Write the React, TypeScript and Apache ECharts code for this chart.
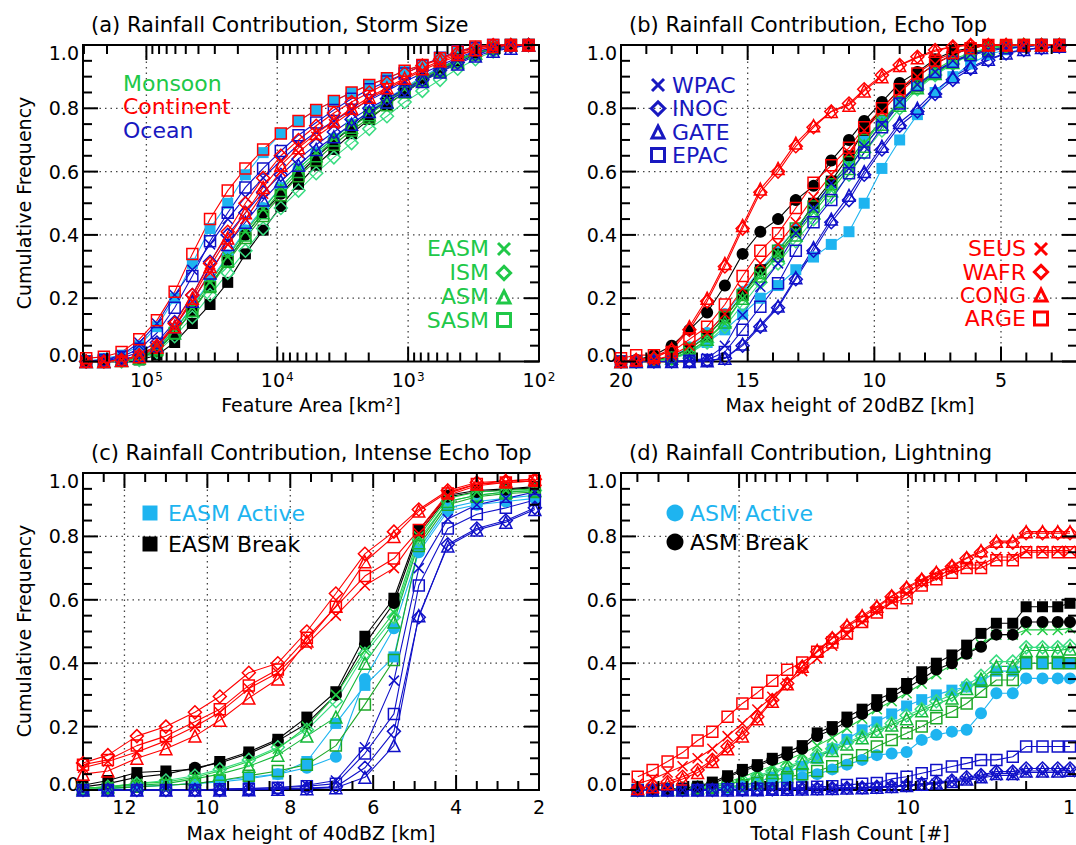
import React, { useEffect, useRef } from 'react';
import * as echarts from 'echarts';

// ---------------- data ----------------
// (a) storm size bins [km^2]
const aArea = [288400, 211300, 154700, 113300, 83040, 60810, 44550, 32630, 23900, 17510, 12820, 9393, 6880, 5040, 3692, 2704, 1981, 1451, 1063, 778, 570, 418, 306, 224, 164, 120];
const aEASM = [0, 0, 0.003, 0.01, 0.04, 0.1, 0.17, 0.25, 0.33, 0.41, 0.48, 0.55, 0.61, 0.66, 0.705, 0.75, 0.79, 0.825, 0.86, 0.895, 0.925, 0.955, 0.975, 0.99, 1, 1];
const aISM = [0, 0, 0, 0.005, 0.03, 0.08, 0.14, 0.21, 0.28, 0.35, 0.42, 0.485, 0.54, 0.595, 0.645, 0.69, 0.735, 0.775, 0.82, 0.855, 0.89, 0.925, 0.955, 0.98, 0.995, 1];
const aASM = [0, 0, 0.003, 0.01, 0.04, 0.09, 0.16, 0.24, 0.32, 0.4, 0.47, 0.54, 0.6, 0.65, 0.7, 0.74, 0.78, 0.82, 0.855, 0.89, 0.92, 0.95, 0.975, 0.99, 1, 1];
const aSASM = [0, 0, 0.002, 0.008, 0.035, 0.09, 0.16, 0.235, 0.315, 0.39, 0.46, 0.525, 0.585, 0.635, 0.685, 0.73, 0.77, 0.81, 0.85, 0.885, 0.915, 0.945, 0.97, 0.99, 1, 1];
const aSEUS = [0, 0, 0.005, 0.02, 0.05, 0.11, 0.19, 0.28, 0.37, 0.45, 0.53, 0.6, 0.66, 0.71, 0.75, 0.79, 0.83, 0.86, 0.89, 0.92, 0.945, 0.965, 0.985, 0.995, 1, 1];
const aWAFR = [0, 0, 0.005, 0.02, 0.05, 0.12, 0.21, 0.31, 0.41, 0.5, 0.58, 0.65, 0.7, 0.745, 0.785, 0.82, 0.85, 0.88, 0.91, 0.935, 0.955, 0.975, 0.99, 1, 1, 1];
const aCONG = [0, 0, 0.003, 0.015, 0.045, 0.11, 0.2, 0.3, 0.39, 0.47, 0.55, 0.62, 0.675, 0.72, 0.76, 0.8, 0.835, 0.865, 0.895, 0.925, 0.95, 0.97, 0.985, 0.995, 1, 1];
const aARGE = [0.01, 0.015, 0.03, 0.07, 0.13, 0.22, 0.34, 0.45, 0.54, 0.61, 0.67, 0.72, 0.76, 0.795, 0.823, 0.85, 0.874, 0.895, 0.919, 0.937, 0.958, 0.979, 0.995, 1, 1, 1];
const aWPAC = [0, 0.005, 0.02, 0.06, 0.12, 0.21, 0.29, 0.37, 0.45, 0.52, 0.58, 0.635, 0.685, 0.725, 0.76, 0.795, 0.825, 0.855, 0.885, 0.91, 0.935, 0.96, 0.98, 0.99, 1, 1];
const aINOC = [0, 0.003, 0.01, 0.03, 0.06, 0.125, 0.21, 0.315, 0.4, 0.47, 0.535, 0.59, 0.64, 0.685, 0.725, 0.765, 0.8, 0.83, 0.86, 0.89, 0.92, 0.945, 0.97, 0.985, 0.995, 1];
const aGATE = [0, 0, 0.005, 0.02, 0.05, 0.11, 0.19, 0.28, 0.37, 0.44, 0.51, 0.57, 0.62, 0.67, 0.71, 0.75, 0.79, 0.82, 0.855, 0.885, 0.915, 0.94, 0.965, 0.98, 0.99, 1];
const aEPAC = [0, 0.005, 0.015, 0.04, 0.09, 0.17, 0.27, 0.38, 0.47, 0.55, 0.61, 0.665, 0.715, 0.755, 0.795, 0.83, 0.86, 0.885, 0.91, 0.935, 0.96, 0.98, 0.99, 1, 1, 1];
const aEASMActive = [0, 0.01, 0.02, 0.05, 0.11, 0.2, 0.31, 0.42, 0.5, 0.59, 0.66, 0.72, 0.76, 0.795, 0.823, 0.85, 0.874, 0.895, 0.919, 0.937, 0.958, 0.979, 0.995, 1, 1, 1];
const aEASMBreak = [0, 0, 0, 0.005, 0.02, 0.06, 0.12, 0.18, 0.25, 0.34, 0.415, 0.49, 0.56, 0.62, 0.67, 0.72, 0.765, 0.81, 0.85, 0.885, 0.92, 0.95, 0.975, 0.99, 1, 1];
const aASMActive = [0, 0, 0.003, 0.012, 0.045, 0.1, 0.175, 0.255, 0.335, 0.415, 0.485, 0.55, 0.61, 0.66, 0.705, 0.75, 0.79, 0.83, 0.865, 0.9, 0.93, 0.955, 0.975, 0.99, 1, 1];
const aASMBreak = [0, 0, 0.002, 0.01, 0.035, 0.09, 0.16, 0.24, 0.32, 0.4, 0.47, 0.53, 0.59, 0.645, 0.695, 0.74, 0.785, 0.825, 0.86, 0.895, 0.925, 0.955, 0.975, 0.99, 1, 1];

// (b) max height of 20 dBZ [km]
const bHeight = [20.0, 19.4, 18.7, 18.0, 17.3, 16.6, 15.9, 15.2, 14.5, 13.8, 13.1, 12.4, 11.7, 11.0, 10.4, 9.7, 9.0, 8.3, 7.6, 6.9, 6.2, 5.5, 4.8, 4.1, 3.4, 2.7];
const bEASM = [0, 0, 0.003, 0.01, 0.03, 0.07, 0.12, 0.2, 0.27, 0.34, 0.41, 0.48, 0.55, 0.62, 0.69, 0.76, 0.82, 0.875, 0.92, 0.955, 0.975, 0.99, 1, 1, 1, 1];
const bISM = [0, 0, 0.002, 0.008, 0.025, 0.06, 0.11, 0.18, 0.25, 0.31, 0.38, 0.45, 0.52, 0.59, 0.66, 0.73, 0.8, 0.86, 0.905, 0.94, 0.97, 0.985, 0.995, 1, 1, 1];
const bASM = [0, 0, 0.003, 0.01, 0.03, 0.07, 0.125, 0.2, 0.27, 0.335, 0.4, 0.47, 0.54, 0.61, 0.68, 0.75, 0.81, 0.865, 0.91, 0.945, 0.975, 0.99, 1, 1, 1, 1];
const bSASM = [0, 0, 0.003, 0.012, 0.04, 0.08, 0.14, 0.21, 0.28, 0.35, 0.42, 0.49, 0.56, 0.63, 0.7, 0.76, 0.82, 0.87, 0.91, 0.945, 0.97, 0.985, 0.995, 1, 1, 1];
const bSEUS = [0, 0, 0.005, 0.02, 0.05, 0.09, 0.15, 0.23, 0.31, 0.37, 0.44, 0.52, 0.59, 0.66, 0.73, 0.79, 0.85, 0.9, 0.94, 0.97, 0.99, 1, 1, 1, 1, 1];
const bWAFR = [0, 0.005, 0.01, 0.036, 0.1, 0.19, 0.3, 0.42, 0.535, 0.6, 0.68, 0.74, 0.79, 0.815, 0.86, 0.905, 0.937, 0.963, 0.984, 0.995, 1, 1, 1, 1, 1, 1];
const bCONG = [0, 0.005, 0.015, 0.04, 0.11, 0.2, 0.31, 0.43, 0.545, 0.61, 0.69, 0.745, 0.79, 0.81, 0.855, 0.9, 0.935, 0.96, 0.98, 0.995, 1, 1, 1, 1, 1, 1];
const bARGE = [0.01, 0.02, 0.02, 0.03, 0.07, 0.11, 0.18, 0.27, 0.35, 0.405, 0.485, 0.565, 0.62, 0.675, 0.74, 0.8, 0.86, 0.91, 0.95, 0.975, 0.99, 1, 1, 1, 1, 1];
const bWPAC = [0, 0, 0, 0, 0.003, 0.01, 0.05, 0.147, 0.236, 0.31, 0.405, 0.484, 0.563, 0.61, 0.68, 0.75, 0.82, 0.875, 0.915, 0.95, 0.97, 0.985, 0.99, 0.995, 1, 1];
const bINOC = [0, 0, 0, 0, 0, 0.003, 0.01, 0.05, 0.11, 0.17, 0.26, 0.35, 0.44, 0.51, 0.59, 0.67, 0.745, 0.79, 0.845, 0.89, 0.925, 0.952, 0.973, 0.984, 0.99, 0.995];
const bGATE = [0, 0, 0, 0, 0, 0.002, 0.01, 0.055, 0.115, 0.175, 0.265, 0.36, 0.45, 0.525, 0.6, 0.68, 0.755, 0.8, 0.855, 0.9, 0.93, 0.955, 0.975, 0.986, 0.992, 0.996];
const bEPAC = [0, 0, 0, 0, 0.002, 0.005, 0.03, 0.1, 0.173, 0.247, 0.35, 0.44, 0.51, 0.595, 0.66, 0.74, 0.815, 0.874, 0.915, 0.947, 0.968, 0.98, 0.99, 0.995, 1, 1];
const bEASMActive = [0, 0, 0.003, 0.01, 0.03, 0.06, 0.1, 0.15, 0.2, 0.24, 0.29, 0.33, 0.37, 0.41, 0.5, 0.61, 0.7, 0.78, 0.85, 0.9, 0.94, 0.97, 0.985, 0.995, 1, 1];
const bEASMBreak = [0, 0, 0.005, 0.015, 0.04, 0.08, 0.14, 0.21, 0.29, 0.34, 0.41, 0.5, 0.57, 0.65, 0.73, 0.8, 0.86, 0.9, 0.94, 0.97, 0.99, 1, 1, 1, 1, 1];
const bASMActive = [0, 0, 0.004, 0.015, 0.045, 0.09, 0.15, 0.22, 0.29, 0.355, 0.42, 0.49, 0.56, 0.63, 0.7, 0.76, 0.82, 0.87, 0.91, 0.945, 0.97, 0.985, 0.995, 1, 1, 1];
const bASMBreak = [0, 0.005, 0.02, 0.05, 0.1, 0.155, 0.24, 0.34, 0.41, 0.45, 0.51, 0.555, 0.635, 0.7, 0.76, 0.82, 0.88, 0.915, 0.955, 0.98, 0.99, 1, 1, 1, 1, 1];

// (c) max height of 40 dBZ [km]
const cHeight = [13.0, 12.4, 11.7, 11.0, 10.3, 9.7, 9.0, 8.3, 7.6, 6.9, 6.2, 5.5, 4.9, 4.2, 3.5, 2.8, 2.1];
const cEASM = [0.005, 0.01, 0.02, 0.025, 0.04, 0.06, 0.09, 0.13, 0.2, 0.3, 0.44, 0.56, 0.8, 0.92, 0.94, 0.945, 0.95];
const cISM = [0.005, 0.01, 0.02, 0.03, 0.045, 0.065, 0.095, 0.135, 0.19, 0.28, 0.43, 0.545, 0.79, 0.91, 0.93, 0.94, 0.945];
const cASM = [0.005, 0.01, 0.015, 0.02, 0.035, 0.05, 0.075, 0.11, 0.17, 0.23, 0.4, 0.53, 0.78, 0.91, 0.93, 0.94, 0.945];
const cSASM = [0, 0.005, 0.01, 0.015, 0.02, 0.03, 0.045, 0.06, 0.08, 0.14, 0.27, 0.41, 0.77, 0.9, 0.925, 0.935, 0.94];
const cSEUS = [0.07, 0.09, 0.12, 0.155, 0.2, 0.245, 0.32, 0.37, 0.46, 0.55, 0.645, 0.7, 0.81, 0.93, 0.96, 0.97, 0.975];
const cWAFR = [0.085, 0.11, 0.17, 0.2, 0.245, 0.295, 0.37, 0.4, 0.5, 0.62, 0.745, 0.815, 0.885, 0.945, 0.97, 0.975, 0.98];
const cCONG = [0.05, 0.06, 0.1, 0.13, 0.17, 0.22, 0.29, 0.35, 0.47, 0.58, 0.72, 0.8, 0.88, 0.94, 0.965, 0.975, 0.98];
const cARGE = [0.08, 0.095, 0.14, 0.17, 0.215, 0.255, 0.33, 0.38, 0.48, 0.578, 0.675, 0.73, 0.82, 0.935, 0.965, 0.97, 0.975];
const cWPAC = [0, 0, 0, 0, 0, 0.003, 0.005, 0.008, 0.015, 0.03, 0.135, 0.345, 0.7, 0.855, 0.9, 0.92, 0.94];
const cINOC = [0, 0, 0, 0, 0, 0, 0.002, 0.004, 0.006, 0.01, 0.07, 0.185, 0.545, 0.775, 0.825, 0.85, 0.89];
const cGATE = [0, 0, 0, 0, 0, 0, 0.001, 0.002, 0.004, 0.007, 0.04, 0.14, 0.55, 0.77, 0.82, 0.845, 0.885];
const cEPAC = [0, 0, 0, 0, 0, 0.002, 0.004, 0.007, 0.012, 0.02, 0.115, 0.24, 0.645, 0.825, 0.87, 0.89, 0.915];
const cEASMActive = [0, 0.005, 0.01, 0.015, 0.02, 0.025, 0.035, 0.05, 0.09, 0.21, 0.33, 0.42, 0.76, 0.89, 0.91, 0.92, 0.93];
const cEASMBreak = [0.015, 0.03, 0.055, 0.06, 0.065, 0.09, 0.12, 0.16, 0.23, 0.31, 0.485, 0.605, 0.82, 0.93, 0.945, 0.95, 0.957];
const cASMActive = [0, 0.005, 0.01, 0.015, 0.02, 0.03, 0.04, 0.05, 0.07, 0.105, 0.35, 0.51, 0.75, 0.88, 0.9, 0.91, 0.92];
const cASMBreak = [0.01, 0.02, 0.04, 0.05, 0.07, 0.085, 0.115, 0.155, 0.21, 0.3, 0.46, 0.59, 0.81, 0.925, 0.94, 0.947, 0.953];

// (d) total flash count
const dFlash = [398, 325, 265, 216, 176, 144, 117, 95.6, 78, 63.6, 51.9, 42.3, 34.5, 28.1, 23, 18.7, 15.3, 12.5, 10.2, 8.3, 6.8, 5.5, 4.5, 3.7, 3, 2.4, 2, 1.6, 1.3, 1.1];
const dEASM = [0, 0, 0.002, 0.005, 0.01, 0.015, 0.025, 0.04, 0.06, 0.075, 0.095, 0.115, 0.14, 0.165, 0.195, 0.225, 0.255, 0.28, 0.305, 0.335, 0.365, 0.395, 0.43, 0.46, 0.49, 0.49, 0.505, 0.505, 0.505, 0.51];
const dISM = [0, 0, 0.002, 0.004, 0.008, 0.012, 0.02, 0.03, 0.045, 0.06, 0.075, 0.09, 0.11, 0.13, 0.15, 0.17, 0.19, 0.21, 0.235, 0.255, 0.28, 0.3, 0.33, 0.36, 0.405, 0.405, 0.45, 0.45, 0.45, 0.455];
const dASM = [0, 0, 0.002, 0.004, 0.007, 0.011, 0.018, 0.028, 0.04, 0.055, 0.07, 0.085, 0.105, 0.125, 0.145, 0.165, 0.185, 0.205, 0.225, 0.25, 0.27, 0.29, 0.32, 0.35, 0.39, 0.39, 0.44, 0.44, 0.44, 0.445];
const dSASM = [0, 0, 0, 0.002, 0.004, 0.006, 0.01, 0.015, 0.022, 0.03, 0.04, 0.05, 0.06, 0.075, 0.095, 0.11, 0.137, 0.158, 0.179, 0.2, 0.226, 0.247, 0.273, 0.31, 0.347, 0.347, 0.4, 0.4, 0.4, 0.4];
const dSEUS = [0.02, 0.035, 0.055, 0.075, 0.1, 0.13, 0.17, 0.21, 0.254, 0.294, 0.336, 0.375, 0.415, 0.455, 0.49, 0.53, 0.565, 0.595, 0.62, 0.655, 0.675, 0.695, 0.71, 0.71, 0.735, 0.735, 0.755, 0.755, 0.755, 0.755];
const dWAFR = [0.005, 0.015, 0.025, 0.042, 0.063, 0.095, 0.137, 0.179, 0.231, 0.284, 0.336, 0.389, 0.436, 0.478, 0.515, 0.545, 0.575, 0.61, 0.636, 0.662, 0.683, 0.705, 0.73, 0.75, 0.78, 0.78, 0.81, 0.81, 0.81, 0.81];
const dCONG = [0.005, 0.01, 0.02, 0.035, 0.055, 0.09, 0.13, 0.17, 0.225, 0.28, 0.335, 0.39, 0.44, 0.48, 0.52, 0.55, 0.58, 0.612, 0.64, 0.665, 0.687, 0.708, 0.733, 0.755, 0.785, 0.785, 0.815, 0.815, 0.815, 0.815];
const dARGE = [0.042, 0.063, 0.09, 0.118, 0.156, 0.184, 0.231, 0.273, 0.307, 0.345, 0.379, 0.402, 0.436, 0.465, 0.494, 0.53, 0.56, 0.59, 0.605, 0.645, 0.665, 0.685, 0.7, 0.7, 0.725, 0.725, 0.75, 0.75, 0.75, 0.75];
const dWPAC = [0, 0, 0, 0, 0, 0, 0, 0, 0.001, 0.001, 0.002, 0.002, 0.003, 0.004, 0.005, 0.006, 0.008, 0.01, 0.013, 0.016, 0.02, 0.025, 0.03, 0.038, 0.046, 0.046, 0.055, 0.055, 0.055, 0.056];
const dINOC = [0, 0, 0, 0, 0, 0, 0.001, 0.001, 0.002, 0.002, 0.003, 0.004, 0.005, 0.006, 0.007, 0.008, 0.01, 0.012, 0.015, 0.02, 0.025, 0.03, 0.04, 0.047, 0.058, 0.058, 0.068, 0.068, 0.068, 0.068];
const dGATE = [0, 0, 0, 0, 0, 0, 0, 0.001, 0.001, 0.002, 0.002, 0.003, 0.004, 0.005, 0.006, 0.007, 0.009, 0.011, 0.014, 0.018, 0.022, 0.027, 0.035, 0.042, 0.052, 0.052, 0.06, 0.06, 0.06, 0.062];
const dEPAC = [0, 0, 0, 0, 0, 0.001, 0.002, 0.003, 0.004, 0.005, 0.006, 0.008, 0.01, 0.012, 0.016, 0.02, 0.022, 0.035, 0.042, 0.053, 0.063, 0.074, 0.084, 0.095, 0.095, 0.105, 0.137, 0.137, 0.137, 0.137];
const dEASMActive = [0, 0, 0.001, 0.002, 0.004, 0.006, 0.01, 0.015, 0.025, 0.04, 0.055, 0.075, 0.1, 0.13, 0.16, 0.19, 0.215, 0.24, 0.265, 0.285, 0.3, 0.315, 0.325, 0.34, 0.375, 0.375, 0.4, 0.4, 0.4, 0.4];
const dEASMBreak = [0, 0, 0.003, 0.006, 0.012, 0.025, 0.045, 0.065, 0.08, 0.1, 0.12, 0.14, 0.18, 0.2, 0.23, 0.255, 0.285, 0.305, 0.336, 0.373, 0.4, 0.426, 0.457, 0.494, 0.526, 0.526, 0.578, 0.578, 0.578, 0.589];
const dASMActive = [0, 0, 0, 0.001, 0.002, 0.004, 0.006, 0.01, 0.015, 0.02, 0.03, 0.04, 0.05, 0.065, 0.08, 0.095, 0.11, 0.115, 0.12, 0.158, 0.174, 0.184, 0.19, 0.242, 0.305, 0.305, 0.352, 0.352, 0.352, 0.352];
const dASMBreak = [0, 0, 0.003, 0.006, 0.01, 0.02, 0.04, 0.06, 0.075, 0.095, 0.11, 0.13, 0.17, 0.19, 0.215, 0.24, 0.265, 0.294, 0.32, 0.35, 0.38, 0.4, 0.43, 0.452, 0.49, 0.49, 0.53, 0.53, 0.53, 0.53];

// tick labels / titles
const TITLES = [
  '(a) Rainfall Contribution, Storm Size',
  '(b) Rainfall Contribution, Echo Top',
  '(c) Rainfall Contribution, Intense Echo Top',
  '(d) Rainfall Contribution, Lightning',
];
const XNAMES = ['Feature Area [km\u00B2]', 'Max height of 20dBZ [km]', 'Max height of 40dBZ [km]', 'Total Flash Count [#]'];
const YNAME = 'Cumulative Frequency';
const Y_MAJOR = [0, 0.2, 0.4, 0.6, 0.8, 1];
const Y_MINOR = [0.05, 0.1, 0.15, 0.25, 0.3, 0.35, 0.45, 0.5, 0.55, 0.65, 0.7, 0.75, 0.85, 0.9, 0.95];
const Y_GRID = [0.2, 0.4, 0.6, 0.8];
const A_MAJOR = [100, 1000, 10000, 100000];
const A_MINOR = [200, 300, 400, 500, 600, 700, 800, 900, 2000, 3000, 4000, 5000, 6000, 7000, 8000, 9000, 20000, 30000, 40000, 50000, 60000, 70000, 80000, 90000, 200000, 300000];
const A_GRID = [1000, 10000, 100000];
const B_MAJOR = [5, 10, 15, 20];
const B_MINOR = [2, 3, 4, 6, 7, 8, 9, 11, 12, 13, 14, 16, 17, 18, 19];
const B_GRID = [5, 10, 15];
const C_MAJOR = [2, 4, 6, 8, 10, 12];
const C_MINOR = [2.5, 3, 3.5, 4.5, 5, 5.5, 6.5, 7, 7.5, 8.5, 9, 9.5, 10.5, 11, 11.5, 12.5, 13];
const C_GRID = [4, 6, 8, 10, 12];
const D_MAJOR = [1, 10, 100];
const D_MINOR = [2, 3, 4, 5, 6, 7, 8, 9, 20, 30, 40, 50, 60, 70, 80, 90, 200, 300, 400, 500];
const D_GRID = [10, 100];

// ---------------- styles ----------------
const FONT = 'DejaVu Sans';
const RED = '#FF0000';
const BLUE = '#1010C8';
const CYAN = '#1EB4F0';
const BLACK = '#000000';
const GREEN_TXT = '#20C848';
const X_PATH = 'path://M0,0L10,10M10,0L0,10';

type St = { color: string; symbol: string; size: number; filled: boolean };
const STYLE: Record<string, St> = {
  EASM: { color: '#22CC44', symbol: X_PATH, size: 10, filled: false },
  ISM: { color: '#38DC80', symbol: 'diamond', size: 13, filled: false },
  ASM: { color: '#14B838', symbol: 'triangle', size: 12, filled: false },
  SASM: { color: '#1EA828', symbol: 'rect', size: 11, filled: false },
  SEUS: { color: RED, symbol: X_PATH, size: 10, filled: false },
  WAFR: { color: RED, symbol: 'diamond', size: 13, filled: false },
  CONG: { color: RED, symbol: 'triangle', size: 12, filled: false },
  ARGE: { color: RED, symbol: 'rect', size: 11, filled: false },
  WPAC: { color: BLUE, symbol: X_PATH, size: 10, filled: false },
  INOC: { color: BLUE, symbol: 'diamond', size: 13, filled: false },
  GATE: { color: BLUE, symbol: 'triangle', size: 12, filled: false },
  EPAC: { color: BLUE, symbol: 'rect', size: 11, filled: false },
  EASMActive: { color: CYAN, symbol: 'rect', size: 11, filled: true },
  EASMBreak: { color: BLACK, symbol: 'rect', size: 11, filled: true },
  ASMActive: { color: CYAN, symbol: 'circle', size: 12, filled: true },
  ASMBreak: { color: BLACK, symbol: 'circle', size: 12, filled: true },
};

function lineSeries(gi: number, xs: number[], ys: number[], key: string) {
  const st = STYLE[key];
  const n = Math.min(xs.length, ys.length);
  const data: number[][] = [];
  for (let i = 0; i < n; i++) data.push([xs[i], ys[i]]);
  return {
    type: 'line',
    name: key + '-' + gi,
    xAxisIndex: gi,
    yAxisIndex: gi,
    data,
    symbol: st.symbol,
    symbolSize: st.size,
    showSymbol: true,
    showAllSymbol: true,
    clip: false,
    silent: true,
    z: 2,
    emphasis: { disabled: true },
    lineStyle: { color: st.color, width: 1.1 },
    itemStyle: st.filled
      ? { color: st.color, borderWidth: 0 }
      : { color: 'rgba(0,0,0,0)', borderColor: st.color, borderWidth: 1.5 },
  };
}

function panel(gi: number, xs: number[], sets: [string, number[]][]) {
  return sets.map(([k, ys]) => lineSeries(gi, xs, ys, k));
}

function decoData(xMaj: number[], xMin: number[], xGrid: number[], xRef: number) {
  const ticks: number[][] = [];
  const grid: number[][] = [];
  xMaj.forEach((v) => ticks.push([v, 0.5, 0]));
  xMin.forEach((v) => ticks.push([v, 0.5, 1]));
  Y_MAJOR.forEach((v) => ticks.push([xRef, v, 2]));
  Y_MINOR.forEach((v) => ticks.push([xRef, v, 3]));
  xGrid.forEach((v) => grid.push([v, 0.5, 4]));
  Y_GRID.forEach((v) => grid.push([xRef, v, 5]));
  return { ticks, grid };
}

const decoRender = (params: any, api: any) => {
  const cs = params.coordSys;
  const kind = api.value(2);
  const p = api.coord([api.value(0), api.value(1)]);
  const L = cs.x, R = cs.x + cs.width, T = cs.y, B = cs.y + cs.height;
  const tick = { stroke: '#000', lineWidth: 2 };
  const dot = { stroke: '#444', lineWidth: 1.3, lineDash: [1.5, 4] };
  if (kind === 0 || kind === 1) {
    const len = kind === 0 ? 15 : 9;
    const x = p[0];
    return {
      type: 'group',
      children: [
        { type: 'line', shape: { x1: x, y1: B, x2: x, y2: B - len }, style: tick },
        { type: 'line', shape: { x1: x, y1: T, x2: x, y2: T + len }, style: tick },
      ],
    };
  }
  if (kind === 2 || kind === 3) {
    const len = kind === 2 ? 15 : 9;
    const y = p[1];
    return {
      type: 'group',
      children: [
        { type: 'line', shape: { x1: L, y1: y, x2: L + len, y2: y }, style: tick },
        { type: 'line', shape: { x1: R, y1: y, x2: R - len, y2: y }, style: tick },
      ],
    };
  }
  if (kind === 4) return { type: 'line', shape: { x1: p[0], y1: T, x2: p[0], y2: B }, style: dot };
  return { type: 'line', shape: { x1: L, y1: p[1], x2: R, y2: p[1] }, style: dot };
};

function decoSeries(gi: number, d: { ticks: number[][]; grid: number[][] }) {
  return [
    { type: 'custom', xAxisIndex: gi, yAxisIndex: gi, data: d.grid, renderItem: decoRender, encode: { x: 0, y: 1 }, silent: true, z: 1, clip: false },
    { type: 'custom', xAxisIndex: gi, yAxisIndex: gi, data: d.ticks, renderItem: decoRender, encode: { x: 0, y: 1 }, silent: true, z: 3, clip: false },
  ];
}

const isPow10 = (v: number) => {
  const l = Math.log10(v);
  return Math.abs(l - Math.round(l)) < 1e-6;
};

function yAxis(gi: number) {
  return {
    type: 'value',
    gridIndex: gi,
    min: 0,
    max: 1,
    interval: 0.2,
    axisLine: { show: false },
    axisTick: { show: false },
    splitLine: { show: false },
    axisLabel: {
      interval: 0,
      margin: 4,
      fontFamily: FONT,
      fontSize: 19,
      color: '#000',
      formatter: (v: number) => (v < 0.001 ? '{lo|0.0}' : v > 0.999 ? '{hi|1.0}' : '{n|' + v.toFixed(1) + '}'),
      rich: {
        n: { fontFamily: FONT, fontSize: 19, color: '#000' },
        lo: { fontFamily: FONT, fontSize: 19, color: '#000', padding: [0, 0, 13, 0] },
        hi: { fontFamily: FONT, fontSize: 19, color: '#000', padding: [15, 0, 0, 0] },
      },
    },
  };
}

function baseX(gi: number, extra: any, margin: number) {
  return {
    gridIndex: gi,
    inverse: true,
    axisLine: { show: false },
    axisTick: { show: false },
    splitLine: { show: false },
    ...extra,
    axisLabel: { interval: 0, margin, fontFamily: FONT, fontSize: 19, color: '#000', ...(extra.axisLabel || {}) },
  };
}

function legendMark(kind: string, cx: number, cy: number, color: string, s = 13, lw = 3): any {
  const h = s / 2;
  const st = { stroke: color, lineWidth: lw, fill: 'rgba(0,0,0,0)' };
  if (kind === 'x')
    return {
      type: 'group',
      children: [
        { type: 'line', shape: { x1: cx - h, y1: cy - h, x2: cx + h, y2: cy + h }, style: st },
        { type: 'line', shape: { x1: cx - h, y1: cy + h, x2: cx + h, y2: cy - h }, style: st },
      ],
    };
  if (kind === 'd') {
    const k = h * 1.1;
    return { type: 'polygon', shape: { points: [[cx, cy - k], [cx + k, cy], [cx, cy + k], [cx - k, cy]] }, style: st };
  }
  if (kind === 't') return { type: 'polygon', shape: { points: [[cx, cy - h], [cx + h, cy + h], [cx - h, cy + h]] }, style: st };
  if (kind === 's') return { type: 'rect', shape: { x: cx - h, y: cy - h, width: s, height: s }, style: st };
  if (kind === 'S') return { type: 'rect', shape: { x: cx - h, y: cy - h, width: s, height: s }, style: { fill: color } };
  return { type: 'circle', shape: { cx, cy, r: h }, style: { fill: color } };
}

function txt(text: string, x: number, y: number, size: number, color: string, align = 'left', rotation = 0): any {
  return {
    type: 'text',
    x,
    y,
    rotation,
    style: {
      text,
      fill: color,
      font: `${size}px "${FONT}"`,
      align,
      textAlign: align,
      verticalAlign: 'middle',
      textVerticalAlign: 'middle',
    },
  };
}

function buildOption() {
  const grids = [
    { left: 83, top: 45, width: 456, height: 316.5 },
    { left: 621, top: 45, width: 456, height: 316.5 },
    { left: 83, top: 473, width: 456, height: 317 },
    { left: 621, top: 473, width: 456, height: 317 },
  ].map((g) => ({ ...g, show: true, borderColor: '#000', borderWidth: 2, backgroundColor: 'rgba(0,0,0,0)', containLabel: false, outerBoundsMode: 'none' }));

  const sup = {
    b: { fontFamily: FONT, fontSize: 19, color: '#000' },
    s: { fontFamily: FONT, fontSize: 12, color: '#000', verticalAlign: 'top', padding: [0, 0, 0, 1] },
  };

  const xAxes = [
    baseX(0, {
      type: 'log', logBase: 10, min: 100, max: 305000,
      axisLabel: { rich: sup, formatter: (v: number) => (isPow10(v) ? `{b|10}{s|${Math.round(Math.log10(v))}}` : '') },
    }, 9),
    baseX(1, {
      type: 'value', min: 2, max: 20, interval: 1,
      axisLabel: { formatter: (v: number) => (Math.abs(v % 5) < 1e-6 ? String(v) : '') },
    }, 9),
    baseX(2, {
      type: 'value', min: 2, max: 13, interval: 1,
      axisLabel: { formatter: (v: number) => (Math.abs(v % 2) < 1e-6 && v <= 12 ? String(v) : '') },
    }, 7),
    baseX(3, {
      type: 'log', logBase: 10, min: 1, max: 500,
      axisLabel: {
        rich: { e: { fontFamily: FONT, fontSize: 19, color: '#000', padding: [0, 16, 0, 0] } },
        formatter: (v: number) => (isPow10(v) ? (Math.round(v) === 1 ? '{e|1}' : String(Math.round(v))) : ''),
      },
    }, 7),
  ];
  const yAxes = [0, 1, 2, 3].map(yAxis);

  const series: any[] = [
    ...decoSeries(0, decoData(A_MAJOR, A_MINOR, A_GRID, 100)),
    ...decoSeries(1, decoData(B_MAJOR, B_MINOR, B_GRID, 2)),
    ...decoSeries(2, decoData(C_MAJOR, C_MINOR, C_GRID, 2)),
    ...decoSeries(3, decoData(D_MAJOR, D_MINOR, D_GRID, 1)),
    ...panel(0, aArea, [
      ['ASMActive', aASMActive], ['EASMActive', aEASMActive], ['ASMBreak', aASMBreak], ['EASMBreak', aEASMBreak],
      ['ISM', aISM], ['SASM', aSASM], ['ASM', aASM], ['EASM', aEASM],
      ['GATE', aGATE], ['INOC', aINOC], ['EPAC', aEPAC], ['WPAC', aWPAC],
      ['CONG', aCONG], ['SEUS', aSEUS], ['WAFR', aWAFR], ['ARGE', aARGE],
    ]),
    ...panel(1, bHeight, [
      ['ASMActive', bASMActive], ['EASMActive', bEASMActive], ['ASMBreak', bASMBreak], ['EASMBreak', bEASMBreak],
      ['ISM', bISM], ['SASM', bSASM], ['ASM', bASM], ['EASM', bEASM],
      ['GATE', bGATE], ['INOC', bINOC], ['EPAC', bEPAC], ['WPAC', bWPAC],
      ['CONG', bCONG], ['SEUS', bSEUS], ['WAFR', bWAFR], ['ARGE', bARGE],
    ]),
    ...panel(2, cHeight, [
      ['ASMActive', cASMActive], ['EASMActive', cEASMActive], ['ASMBreak', cASMBreak], ['EASMBreak', cEASMBreak],
      ['ISM', cISM], ['SASM', cSASM], ['ASM', cASM], ['EASM', cEASM],
      ['GATE', cGATE], ['INOC', cINOC], ['EPAC', cEPAC], ['WPAC', cWPAC],
      ['CONG', cCONG], ['SEUS', cSEUS], ['WAFR', cWAFR], ['ARGE', cARGE],
    ]),
    ...panel(3, dFlash, [
      ['ASMActive', dASMActive], ['EASMActive', dEASMActive],
      ['ISM', dISM], ['SASM', dSASM], ['ASM', dASM], ['EASM', dEASM],
      ['ASMBreak', dASMBreak], ['EASMBreak', dEASMBreak],
      ['GATE', dGATE], ['INOC', dINOC], ['EPAC', dEPAC], ['WPAC', dWPAC],
      ['CONG', dCONG], ['SEUS', dSEUS], ['WAFR', dWAFR], ['ARGE', dARGE],
    ]),
  ];

  const OCEAN_TXT = '#1818C0';
  const graphics: any[] = [
    txt(TITLES[0], 91, 25, 21, '#000'),
    txt(TITLES[1], 629, 25, 21, '#000'),
    txt(TITLES[2], 91, 453, 21, '#000'),
    txt(TITLES[3], 629, 453, 21, '#000'),
    txt(XNAMES[0], 311, 405, 19, '#000', 'center'),
    txt(XNAMES[1], 850, 405, 19, '#000', 'center'),
    txt(XNAMES[2], 311, 833, 19, '#000', 'center'),
    txt(XNAMES[3], 850, 833, 19, '#000', 'center'),
    txt(YNAME, 24, 203, 19, '#000', 'center', Math.PI / 2),
    txt(YNAME, 24, 631, 19, '#000', 'center', Math.PI / 2),
    // (a) legends
    txt('Monsoon', 123, 83, 22, GREEN_TXT),
    txt('Continent', 123, 106.5, 22, RED),
    txt('Ocean', 123, 130, 22, OCEAN_TXT),
    txt('EASM', 489, 248, 22, GREEN_TXT, 'right'),
    txt('ISM', 489, 272, 22, GREEN_TXT, 'right'),
    txt('ASM', 489, 296, 22, GREEN_TXT, 'right'),
    txt('SASM', 489, 320, 22, GREEN_TXT, 'right'),
    legendMark('x', 504, 249, GREEN_TXT, 12),
    legendMark('d', 504, 273, GREEN_TXT, 12),
    legendMark('t', 504, 297, GREEN_TXT, 12),
    legendMark('s', 504, 320, GREEN_TXT, 13),
    // (b) legends
    legendMark('x', 658, 85, OCEAN_TXT, 12),
    legendMark('d', 658, 108.5, OCEAN_TXT, 12),
    legendMark('t', 658, 132, OCEAN_TXT, 12),
    legendMark('s', 658, 155, OCEAN_TXT, 13),
    txt('WPAC', 672, 85, 22, OCEAN_TXT),
    txt('INOC', 672, 108.5, 22, OCEAN_TXT),
    txt('GATE', 672, 132, 22, OCEAN_TXT),
    txt('EPAC', 672, 155, 22, OCEAN_TXT),
    txt('SEUS', 1026, 248, 22, RED, 'right'),
    txt('WAFR', 1026, 272, 22, RED, 'right'),
    txt('CONG', 1026, 295, 22, RED, 'right'),
    txt('ARGE', 1026, 318.5, 22, RED, 'right'),
    legendMark('x', 1041, 249, RED, 12),
    legendMark('d', 1041, 272, RED, 12),
    legendMark('t', 1041, 295, RED, 12),
    legendMark('s', 1041, 318.5, RED, 13),
    // (c) legends
    legendMark('S', 150, 513, CYAN, 15),
    txt('EASM Active', 168, 513, 22, CYAN),
    legendMark('S', 150, 544, BLACK, 15),
    txt('EASM Break', 168, 544, 22, BLACK),
    // (d) legends
    legendMark('C', 675, 513, CYAN, 17),
    txt('ASM Active', 690, 513, 22, CYAN),
    legendMark('C', 675, 542, BLACK, 17),
    txt('ASM Break', 690, 542, 22, BLACK),
  ];

  return {
    animation: false,
    backgroundColor: '#ffffff',
    textStyle: { fontFamily: FONT },
    grid: grids,
    xAxis: xAxes,
    yAxis: yAxes,
    series,
    graphic: { elements: graphics.map((g) => ({ ...g, z: 100 })) },
  };
}

export default function App() {
  const ref = useRef<HTMLDivElement>(null);
  useEffect(() => {
    if (!ref.current) return;
    const chart = echarts.init(ref.current, null, { renderer: 'svg' });
    chart.setOption(buildOption() as any);
    return () => chart.dispose();
  }, []);
  return (
    <div
      ref={ref}
      style={{ position: 'absolute', left: 0, top: 0, width: 1076, height: 845, background: '#fff' }}
    />
  );
}
